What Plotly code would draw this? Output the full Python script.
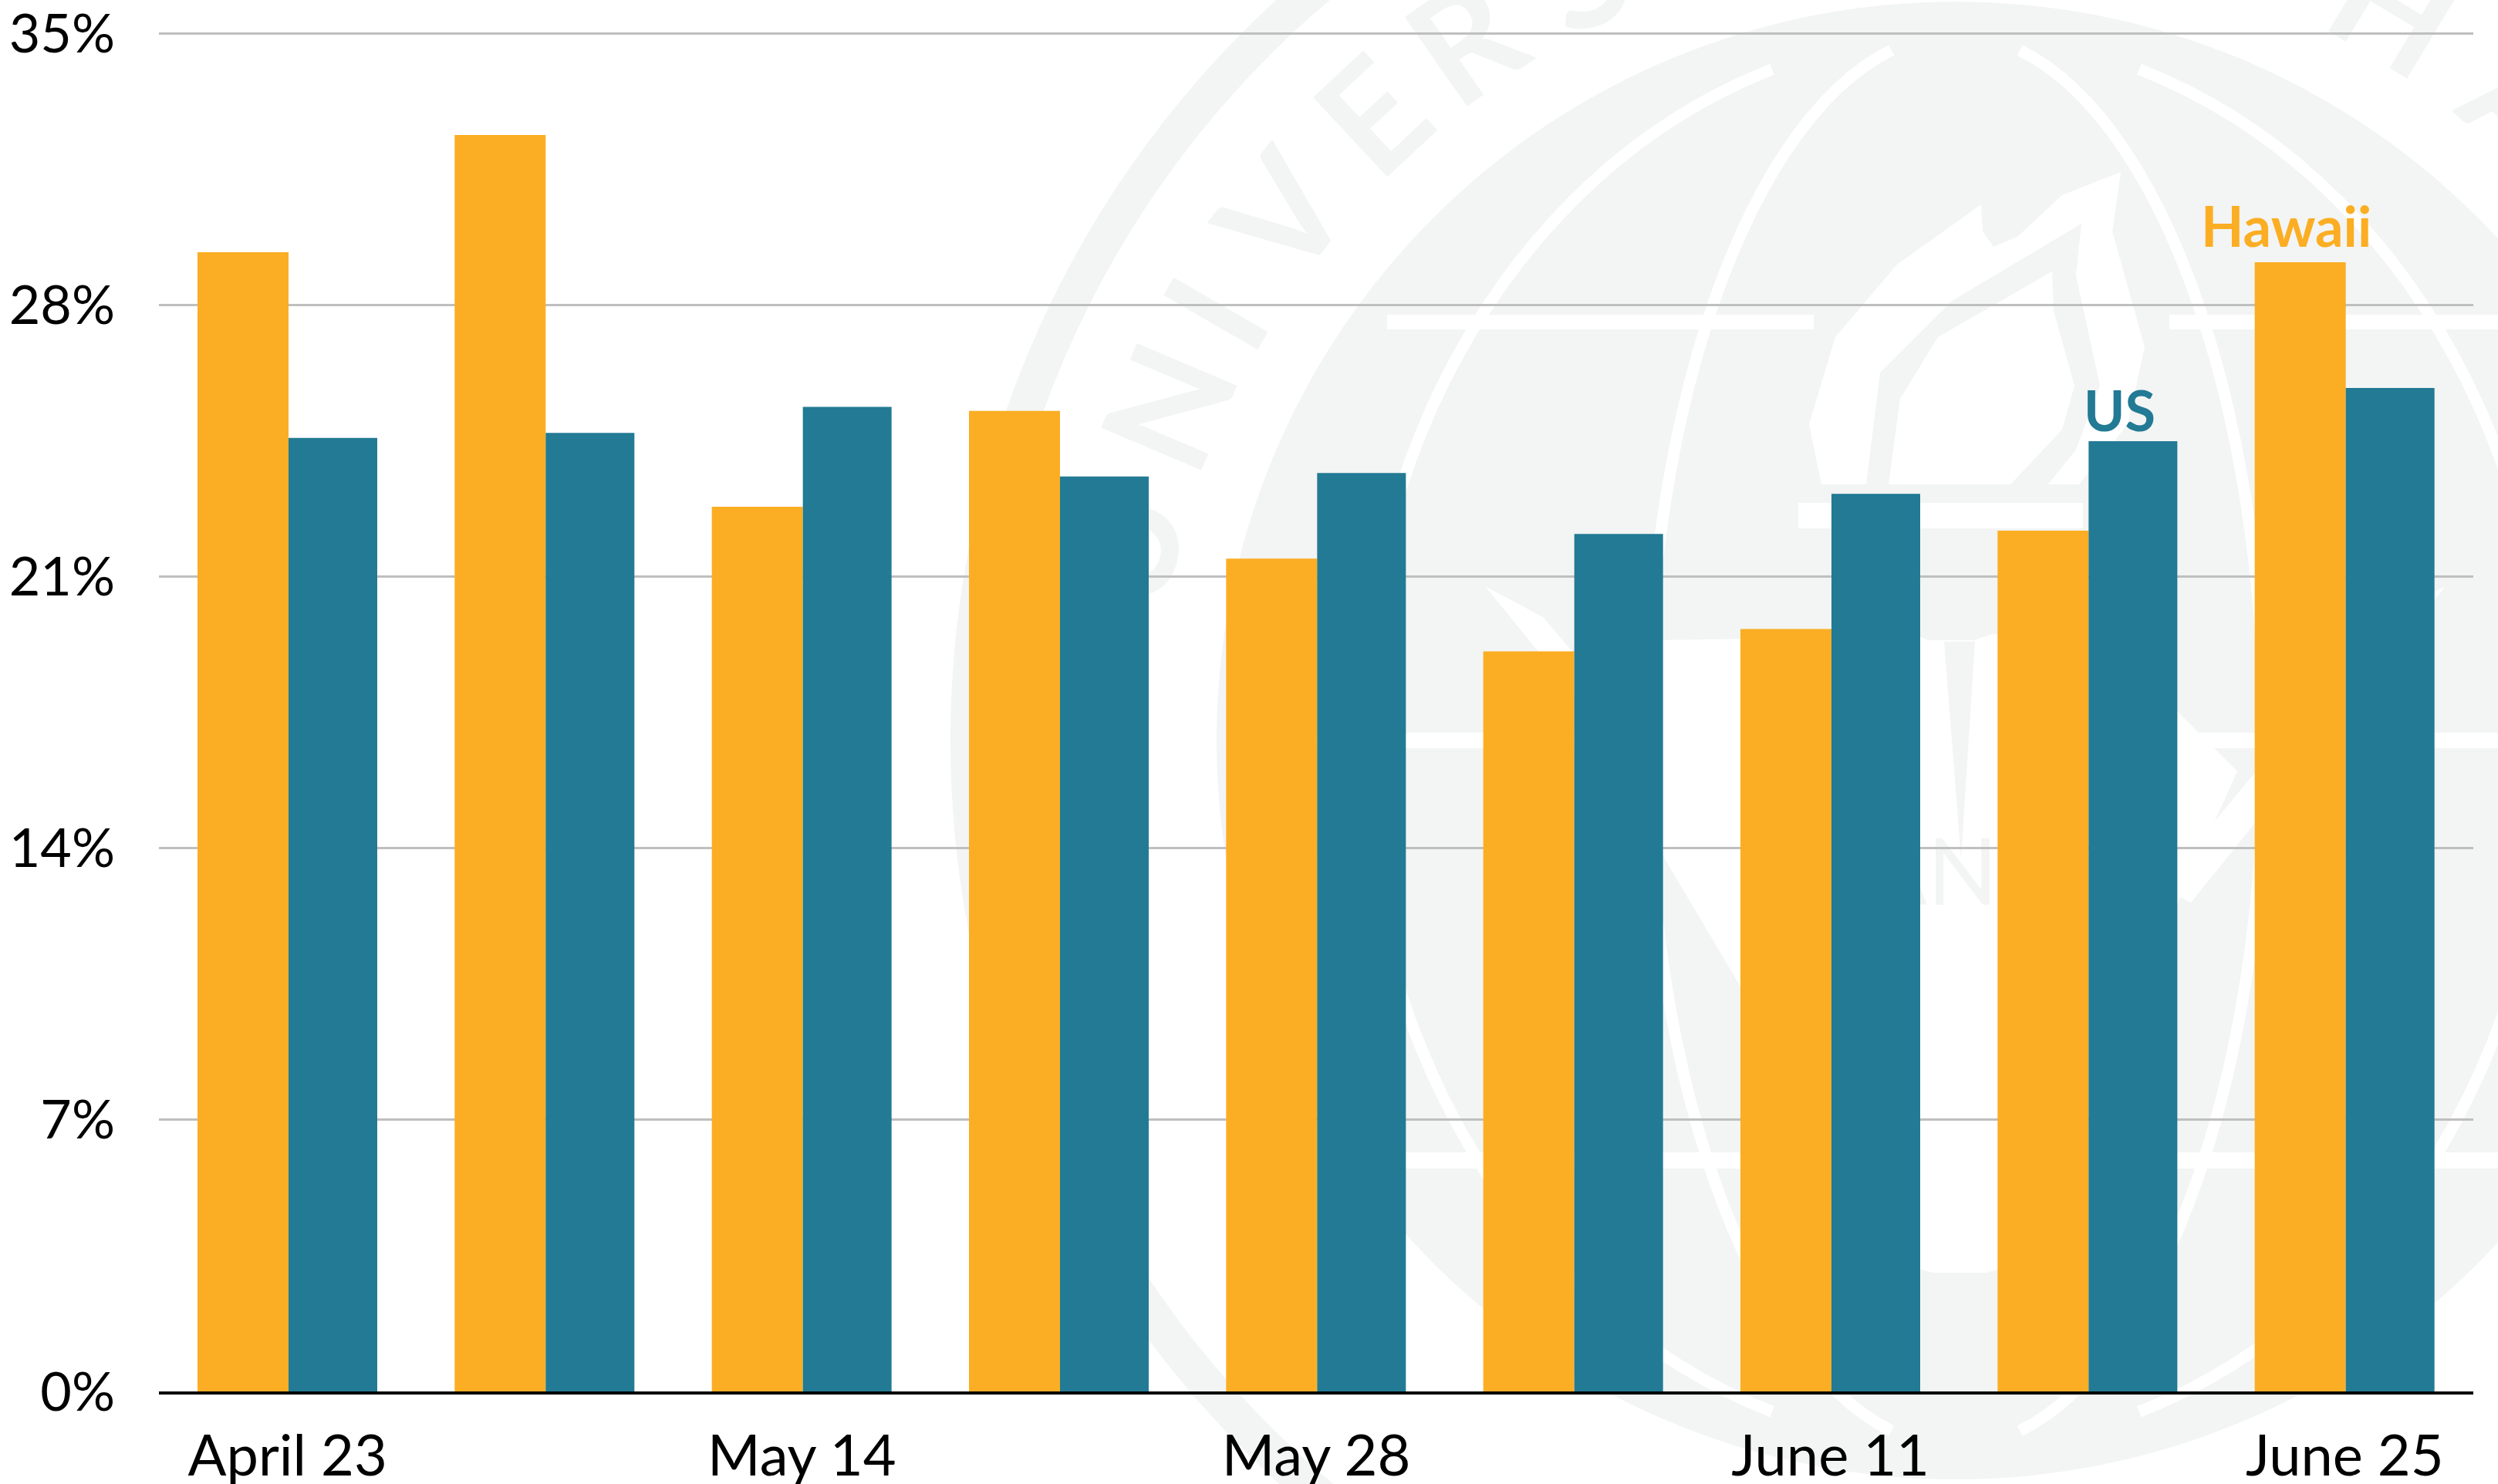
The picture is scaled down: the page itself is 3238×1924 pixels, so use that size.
import numpy as np
import plotly.graph_objects as go

dates = ["April 23", "May 7", "May 14", "May 21", "May 28", "June 4", "June 11", "June 18", "June 25"]
hawaii = [29.36, 32.38, 22.8, 25.27, 21.46, 19.07, 19.65, 22.18, 29.1]
us = [24.57, 24.7, 25.37, 23.58, 23.67, 22.1, 23.13, 24.49, 25.86]
x_tick_labels = ["April 23", "May 14", "May 28", "June 11", "June 25"]
y_ticks = [0, 7, 14, 21, 28, 35]

W, H = 3238, 1924
L, R, T0, B = 206, 3206, 43, 1804
YTOP = 35.4
UNIT = (B - T0) / 35
T = B - YTOP * UNIT
ORANGE, TEAL, SEAL = "#FBAE23", "#227A94", "#F3F4F4"
FONT = "Lato"

def px(x): return (x - L) / (R - L)
def py(y): return (B - y) / (B - T)

CX, CY = 2535, 960
shapes = []

def circle(r, fill=None, line=None, lw=0):
    shapes.append(dict(type="circle", xref="paper", yref="paper", layer="below",
                       x0=px(CX - r), x1=px(CX + r), y0=py(CY + r), y1=py(CY - r),
                       fillcolor=fill or "rgba(0,0,0,0)",
                       line=dict(color=line or "rgba(0,0,0,0)", width=lw)))

def poly(pts, fill=None, line=None, lw=0, close=True):
    d = "M" + " L".join(f"{px(a):.5f},{py(b):.5f}" for a, b in pts) + (" Z" if close else "")
    shapes.append(dict(type="path", xref="paper", yref="paper", layer="below", path=d,
                       fillcolor=fill or "rgba(0,0,0,0)",
                       line=dict(color=line or "rgba(0,0,0,0)", width=lw)))

def label(txt, x, y, size, angle=0, bold=False):
    shapes.append(dict(type="rect", xref="paper", yref="paper", layer="below",
                       x0=px(x - 80), x1=px(x + 80), y0=py(y + 80), y1=py(y - 80),
                       line=dict(width=0), fillcolor="rgba(0,0,0,0)",
                       label=dict(text=f"<b>{txt}</b>" if bold else txt, textangle=angle,
                                  textposition="middle center",
                                  font=dict(family=FONT, size=size, color=SEAL))))

# seal watermark: outer ring, lettering, globe disc
circle(1280, line=SEAL, lw=46)
ring_text = list("UNIVERSITY") + list("OF") + list("HAWAII")
ring_angles = [-77, -67, -60, -52, -43, -35, -26, -18, -10, 0, 12, 20, 31, 42, 53, 63, 71, 77]
for ch, a in zip(ring_text, ring_angles):
    t = np.radians(a)
    label(ch, CX + 1115 * np.sin(t), CY - 1115 * np.cos(t), 195, a, bold=True)
circle(958, fill=SEAL)

# meridians
for rx, t0 in ((400, 12), (770, 18)):
    th = np.radians(np.linspace(t0, 180 - t0, 60))
    poly([(CX - rx * np.sin(a), CY - 915 * np.cos(a)) for a in th], line="white", lw=15, close=False)
    poly([(CX + rx * np.sin(a), CY - 915 * np.cos(a)) for a in th], line="white", lw=15, close=False)
# latitude bands
for y0, y1, xa, xb in [(408, 427, 1798, 2351), (408, 427, 2812, 3290),
                       (950, 970, 1590, 3490), (1494, 1515, 1680, 3390)]:
    poly([(xa, y0), (xb, y0), (xb, y1), (xa, y1)], fill="white")

# lower wedge and torch stem
poly([(2150, 830), (2720, 820), (2900, 1000), (2610, 1640), (2575, 1650), (2505, 1650),
      (2470, 1640), (2150, 1100)], fill="white")
poly([(2520, 832), (2560, 832), (2542, 1113)], fill=SEAL)

# flame
poly([(2749, 223), (2673, 253), (2615, 307), (2584, 320), (2570, 300), (2568, 265), (2459, 343),
      (2379, 437), (2345, 550), (2361, 628), (2695, 628), (2758, 550), (2780, 450), (2738, 300)],
     fill="white")
poly([(2698, 290), (2530, 390), (2437, 483), (2419, 628), (2655, 628), (2691, 583), (2722, 500),
      (2691, 357)], fill=SEAL)
poly([(2660, 352), (2512, 437), (2463, 517), (2448, 628), (2606, 628), (2673, 557), (2689, 500),
      (2662, 403)], fill="white")
poly([(2331, 652), (2700, 652), (2700, 685), (2331, 685)], fill="white")
poly([(2400, 700), (2660, 700), (2640, 800), (2560, 830), (2500, 830), (2420, 800)], fill=SEAL)

# leaves
poly([(1925, 760), (2000, 800), (2300, 1150), (2260, 1170)], fill="white")
poly([(3170, 760), (3090, 800), (2800, 1150), (2840, 1170)], fill="white")

label("MĀNOA", CX, 1125, 120)
label("1907", CX, 1752, 130)

fig = go.Figure()
fig.add_bar(x=dates, y=hawaii, name="Hawaii", marker=dict(color=ORANGE, line_width=0),
            offset=-0.35, width=0.354)
fig.add_bar(x=dates, y=us, name="US", marker=dict(color=TEAL, line_width=0),
            offset=0.004, width=0.345)

annos = [
    dict(x=dates[-1], y=hawaii[-1], text="<b>Hawaii</b>", font=dict(family=FONT, size=72, color=ORANGE),
         showarrow=False, yanchor="bottom", xanchor="center", xshift=-76, yshift=3),
    dict(x=dates[-2], y=us[-2], text="<b>US</b>", font=dict(family=FONT, size=72, color=TEAL),
         showarrow=False, yanchor="bottom", xanchor="center", xshift=41, yshift=-4),
]

fig.update_layout(
    width=W, height=H, autosize=False,
    margin=dict(l=L, r=W - R, t=T, b=H - B, pad=0),
    paper_bgcolor="white", plot_bgcolor="rgba(0,0,0,0)",
    barmode="overlay", showlegend=False, shapes=shapes, annotations=annos,
    font=dict(family=FONT, color="black"),
    xaxis=dict(type="category", categoryorder="array", categoryarray=dates, automargin=False,
               tickmode="array", tickvals=dates[::2], ticktext=x_tick_labels,
               tickfont=dict(family=FONT, size=74, color="black"), ticks="",
               showline=True, linecolor="black", linewidth=4, showgrid=False,
               ticklabelstandoff=16, ticklabeloverflow="allow", zeroline=False, range=[-0.5, 8.5]),
    yaxis=dict(range=[0, YTOP], tickmode="array", tickvals=y_ticks, automargin=False,
               ticktext=[f"{v}%" for v in y_ticks],
               tickfont=dict(family=FONT, size=70, color="black"), ticks="",
               showgrid=True, gridcolor="#BFBFBF", gridwidth=3, zeroline=False,
               showline=False, ticklabelstandoff=56, ticklabeloverflow="allow"),
)
fig.write_html("out.html", config=dict(displayModeBar=False),
               post_script="document.body.style.margin='0';document.body.style.overflow='hidden';")
